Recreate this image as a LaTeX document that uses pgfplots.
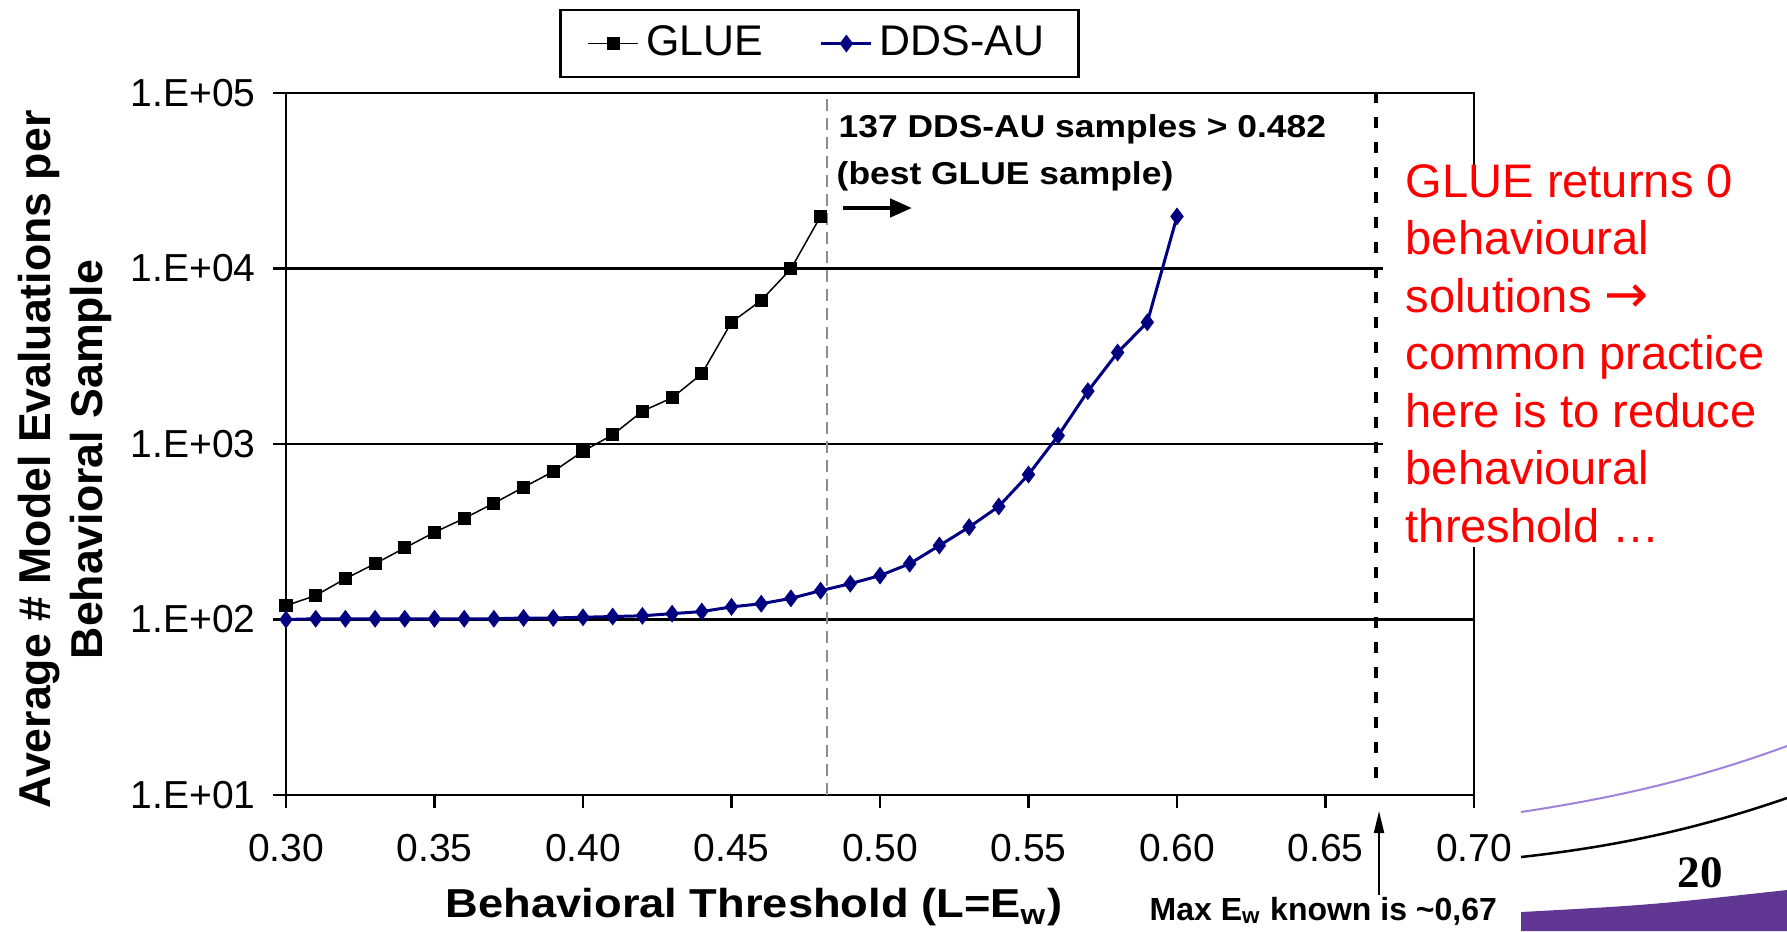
\documentclass[border=0pt]{standalone}
\usepackage{fontspec}
\setmainfont{Liberation Sans}
\newfontfamily\widefont[FakeStretch=1.12]{Liberation Sans}
\newfontfamily\dejavu{DejaVu Sans}
\newfontfamily\serifbold{Liberation Serif}
\usepackage{pgfplots}
\pgfplotsset{compat=1.18}
\usepackage{pgfplotstable}
\usetikzlibrary{arrows.meta}
\definecolor{ddsblue}{RGB}{0,0,128}
\definecolor{slidepurple}{RGB}{96,56,148}
\definecolor{slidelav}{RGB}{160,130,220}
\definecolor{dashgray}{RGB}{140,140,140}

\pgfplotstableread{
x y
0.30 120
0.31 137
0.32 171
0.33 208
0.34 256
0.35 314
0.36 377
0.37 460
0.38 567
0.39 697
0.40 910
0.41 1128
0.42 1538
0.43 1834
0.44 2512
0.45 4940
0.46 6580
0.47 9950
0.48 19850
}\glue

\pgfplotstableread{
x y
0.30 100
0.31 101
0.32 101
0.33 101
0.34 101
0.35 101
0.36 101
0.37 101
0.38 102
0.39 102
0.40 103
0.41 104
0.42 105
0.43 108
0.44 111
0.45 118
0.46 123
0.47 132
0.48 146
0.49 160
0.50 178
0.51 208
0.52 264
0.53 336
0.54 441
0.55 670
0.56 1117
0.57 2000
0.58 3320
0.59 4940
0.60 19800
}\dds

\begin{document}
\begin{tikzpicture}
\path[use as bounding box] (0,0) rectangle (178.7mm,93.1mm);
\begin{axis}[
  at={(28.6mm,13.6mm)}, anchor=south west,
  width=118.8mm, height=70.2mm, scale only axis,
  ymode=log, xmin=0.3, xmax=0.7, ymin=10, ymax=1e5,
  axis line style={line width=0.25mm},
  every tick/.style={black, line width=0.25mm},
  tick align=outside, major tick length=1.3mm,
  xtick pos=left, ytick pos=left,
  ymajorgrids, grid style={black, line width=0.25mm},
  yminorticks=false,
  xtick={0.3,0.35,0.4,0.45,0.5,0.55,0.6,0.65,0.7},
  xticklabels={0.30,0.35,0.40,0.45,0.50,0.55,0.60,0.65,0.70},
  ytick={10,100,1000,10000,100000},
  yticklabels={1.E+01,1.E+02,1.E+03,1.E+04,1.E+05},
  tick label style={font=\fontsize{11.1}{13}\selectfont},
  yticklabel style={xshift=-0.5mm},
  xticklabel style={yshift=-1.4mm},
  xlabel={\widefont\bfseries Behavioral Threshold (L=E\textsubscript{w})},
  xlabel style={at={(axis description cs:0.394,-0.175)}, anchor=base, font=\fontsize{11.5}{13}\selectfont},
  ylabel={Average \# Model Evaluations per\\Behavioral Sample},
  ylabel style={at={(axis description cs:-0.186,0.478)}, anchor=center, align=center, font=\bfseries\fontsize{12.7}{14.8}\selectfont},
  legend columns=2,
  legend image code/.code={\draw[mark repeat=2,mark phase=2,#1] plot coordinates {(0cm,0cm) (0.25cm,0cm) (0.5cm,0cm)};},
  legend style={at={(axis description cs:0.449,1.0705)}, anchor=center, draw=black, line width=0.25mm,
    font=\fontsize{12.2}{14}\selectfont, inner xsep=2.7mm, inner ysep=0.9mm,
    /tikz/every even column/.append style={column sep=5mm}},
]
\draw[dashgray, line width=0.2mm, dash pattern=on 1.2mm off 0.7mm] (axis cs:0.482,10) -- (axis cs:0.482,1e5);
\draw[black, line width=0.4mm, dash pattern=on 1.1mm off 1.4mm] (axis cs:0.667,12.5) -- (axis cs:0.667,1e5);
\addplot[black, line width=0.15mm, mark=square*, mark size=0.58mm] table {\glue};
\addplot[ddsblue, line width=0.3mm, mark=diamond*, mark size=0.65mm] table {\dds};
\legend{GLUE,DDS-AU}
\end{axis}
\begin{scope}[x=0.1mm,y=-0.1mm,shift={(0,93.1mm)}]
  % white box behind the red remark
  \fill[white] (1383,171) rectangle (1787,547);
  \begin{scope}[every node/.style={anchor=base west, inner sep=0, text=red, font=\fontsize{13.4}{16}\selectfont}]
    \node at (1405,197) {GLUE returns 0};
    \node at (1405,254.5) {behavioural};
    \node at (1405,312) {solutions {\dejavu\fontsize{15}{16}\selectfont →}};
    \node at (1405,369.5) {common practice};
    \node at (1405,427) {here is to reduce};
    \node at (1405,484.5) {behavioural};
    \node at (1405,542) {threshold …};
  \end{scope}
  \node[anchor=base west, inner sep=0, font=\widefont\bfseries\fontsize{9}{10}\selectfont] at (838,137) {137 DDS-AU samples > 0.482};
  \node[anchor=base west, inner sep=0, font=\widefont\bfseries\fontsize{9}{10}\selectfont] at (836,184) {(best GLUE sample)};
  \draw[line width=0.45mm, -{Triangle[length=2.2mm,width=1.8mm]}] (843,208) -- (912,208);
  \node[anchor=base west, inner sep=0, font=\bfseries\fontsize{9.1}{11}\selectfont] at (1149,920) {Max E\textsubscript{w} known is \textasciitilde 0,67};
  \draw[line width=0.2mm, -{Triangle[length=2.2mm,width=1mm]}] (1379,895) -- (1379,811);
  % slide decoration
  \draw[slidelav, line width=0.2mm] (1521,812) .. controls (1620,797) and (1700,778) .. (1787,746);
  \draw[black, line width=0.25mm] (1521,857) .. controls (1620,846) and (1700,828) .. (1787,798);
  \fill[slidepurple] (1521,931) -- (1521,912) .. controls (1650,905) .. (1787,890) -- (1787,931) -- cycle;
  \node[anchor=base, inner sep=0, font=\serifbold\bfseries\fontsize{12.8}{14}\selectfont] at (1700,887) {20};
\end{scope}
\end{tikzpicture}
\end{document}
